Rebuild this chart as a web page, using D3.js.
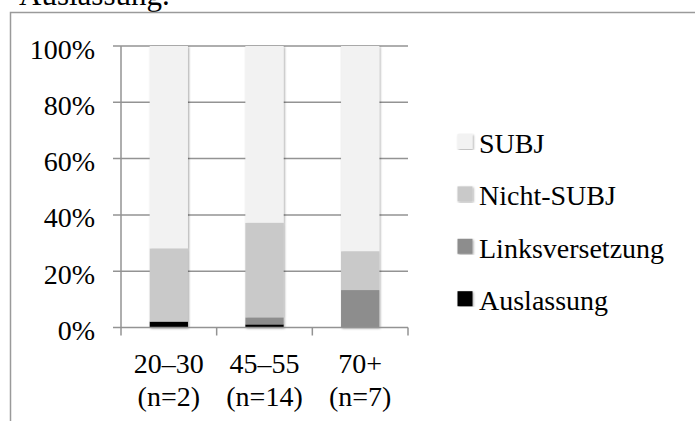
<!DOCTYPE html>
<html>
<head>
<meta charset="utf-8">
<script src="https://cdn.jsdelivr.net/npm/d3@7"></script>
<style>
    html, body { margin: 0; padding: 0; background: #fff; }
    svg { display: block; font-family: "Liberation Serif", "Times New Roman", serif; }
</style>
</head>
<body>
<div id="chart"></div>
<script>
// Werte (Anteile in %)
const categories = ["20–30", "45–55", "70+"]
const sampleSizes = ["(n=2)", "(n=14)", "(n=7)"]
const seriesNames = ["Auslassung", "Linksversetzung", "Nicht-SUBJ", "SUBJ"]
const auslassung = [2.1, 1.1, 0]
const linksversetzung = [0, 2.5, 13.3]
const nichtSubj = [26.0, 33.6, 13.8]
const subj = [71.9, 62.8, 72.9]
const yTicks = [0, 0.2, 0.4, 0.6, 0.8, 1]

const colors = {
    "Auslassung": "#000000",
    "Linksversetzung": "#8d8d8d",
    "Nicht-SUBJ": "#c9c9c9",
    "SUBJ": "#f2f2f2"
}

const width = 695, height = 421

const rows = categories.map((c, i) => ({
    cat: c,
    "Auslassung": auslassung[i],
    "Linksversetzung": linksversetzung[i],
    "Nicht-SUBJ": nichtSubj[i],
    "SUBJ": subj[i]
}))

const svg = d3.select("#chart").append("svg")
    .attr("width", width)
    .attr("height", height)

// leichter Schatten wie in Excel
const defs = svg.append("defs")
const shadow = defs.append("filter")
    .attr("id", "shadow")
    .attr("x", "-20%").attr("y", "-5%")
    .attr("width", "140%").attr("height", "110%")
shadow.append("feDropShadow")
    .attr("dx", 1).attr("dy", 1)
    .attr("stdDeviation", 1.2)
    .attr("flood-color", "#000")
    .attr("flood-opacity", 0.35)

// Titelrest oben (abgeschnitten)
svg.append("text")
    .attr("x", 19)
    .attr("y", 5)
    .style("font-size", "31px")
    .attr("fill", "#000")
    .text("Auslassung.")

// Diagrammrahmen (rechts und unten abgeschnitten)
svg.append("rect")
    .attr("x", 10.5)
    .attr("y", 12.5)
    .attr("width", 700)
    .attr("height", 430)
    .attr("fill", "none")
    .attr("stroke", "#9a9a9a")
    .attr("stroke-width", 1.5)

const x = d3.scaleBand()
    .domain(categories)
    .range([121, 408])
    .padding(0)

const y = d3.scaleLinear()
    .domain([0, 1])
    .range([327.5, 46])

const barWidth = x.bandwidth() / 2.5

// Gitterlinien
svg.append("g")
    .selectAll("line")
    .data(yTicks.filter(d => d > 0))
    .join("line")
    .attr("x1", 113)
    .attr("x2", 408)
    .attr("y1", d => y(d))
    .attr("y2", d => y(d))
    .attr("stroke", "#939393")
    .attr("stroke-width", 1.5)

// y-Achse
svg.append("line")
    .attr("x1", 121).attr("x2", 121)
    .attr("y1", y(1)).attr("y2", y(0))
    .attr("stroke", "#939393")
    .attr("stroke-width", 1.5)

svg.append("g")
    .selectAll("text")
    .data(yTicks)
    .join("text")
    .attr("x", 95)
    .attr("y", d => y(d) + 12.5)
    .attr("text-anchor", "end")
    .style("font-size", "28px")
    .text(d => d3.format(".0%")(d))

// Balken
const stack = d3.stack()
    .keys(seriesNames)
    .offset(d3.stackOffsetExpand)

const layers = stack(rows)

svg.append("g")
    .attr("filter", "url(#shadow)")
    .selectAll("g")
    .data(layers)
    .join("g")
    .attr("fill", d => colors[d.key])
    .selectAll("rect")
    .data(d => d)
    .join("rect")
    .attr("x", d => x(d.data.cat) + (x.bandwidth() - barWidth) / 2)
    .attr("width", barWidth)
    .attr("y", d => y(d[1]))
    .attr("height", d => Math.max(0, y(d[0]) - y(d[1])))

// x-Achse
svg.append("line")
    .attr("x1", 113).attr("x2", 408)
    .attr("y1", y(0)).attr("y2", y(0))
    .attr("stroke", "#939393")
    .attr("stroke-width", 1.5)

const tickXs = categories.map(c => x(c)).concat([x.range()[1]])
svg.append("g")
    .selectAll("line")
    .data(tickXs)
    .join("line")
    .attr("x1", d => d).attr("x2", d => d)
    .attr("y1", y(0)).attr("y2", y(0) + 8)
    .attr("stroke", "#939393")
    .attr("stroke-width", 1.5)

const catLabels = svg.append("g")
    .selectAll("text")
    .data(categories)
    .join("text")
    .attr("x", d => x(d) + x.bandwidth() / 2)
    .attr("text-anchor", "middle")
    .style("font-size", "28px")
catLabels.append("tspan")
    .attr("x", d => x(d) + x.bandwidth() / 2)
    .attr("y", 372.5)
    .text(d => d)
catLabels.append("tspan")
    .attr("x", d => x(d) + x.bandwidth() / 2)
    .attr("y", 405.5)
    .text((d, i) => sampleSizes[i])

// Legende
const legendOrder = seriesNames.slice().reverse()
const legend = svg.append("g")
    .selectAll("g")
    .data(legendOrder)
    .join("g")
    .attr("transform", (d, i) => `translate(457.5,${134 + i * 52.4})`)

legend.append("rect")
    .attr("width", 15)
    .attr("height", 15)
    .attr("fill", d => colors[d])
    .attr("filter", "url(#shadow)")

legend.append("text")
    .attr("x", 21.5)
    .attr("y", 19)
    .style("font-size", "28px")
    .text(d => d)
</script>
</body>
</html>
